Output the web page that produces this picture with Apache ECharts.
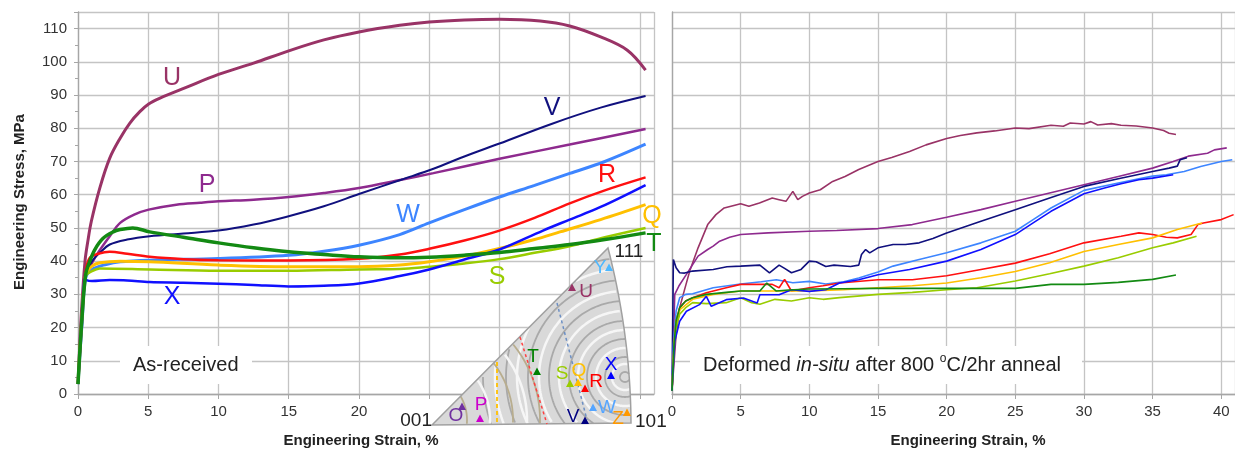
<!DOCTYPE html>
<html><head><meta charset="utf-8">
<script src="https://cdn.jsdelivr.net/npm/echarts@6/dist/echarts.min.js"></script>
<style>html,body{margin:0;padding:0;background:#fff}#c{width:1235px;height:451px}</style>
</head><body><div id="c"></div>
<script>
// ---------- DATA (strain %, stress MPa) ----------
// As-received panel
const asU = [[0,3],[0.25,25],[0.5,40],[0.7,46],[0.95,52],[1.55,62],[2.26,71],[3,77],[3.68,81.5],[4.4,85],[5.03,87.3],[5.8,89],[7.7,92.3],[10,96.2],[12.5,99.6],[15,103.3],[17.5,106.6],[20,109],[22.9,111],[25,112],[27.5,112.6],[30,112.8],[32.9,112.3],[35,110.8],[37.2,107.5],[39.1,103.5],[40.4,97.5]];
const asP = [[0,3],[0.3,22],[0.55,36],[1,39.5],[1.5,43],[2.26,47.5],[3,51.5],[4,54],[5.03,55.5],[7,57],[8.7,57.6],[10,58],[12.5,58.5],[15,59.3],[17.5,60.5],[20,62],[23,64.5],[25.3,66.5],[30,70.8],[35,75.1],[40.4,79.8]];
const asV = [[0,3],[0.3,22],[0.55,36],[1,40],[1.55,42.5],[2.26,45],[3.5,46.5],[5.1,47.5],[7.5,48.3],[10,49.2],[12.5,51],[14.8,53.3],[17.5,56.5],[20,60.2],[23,64.5],[25.3,67.8],[27.5,71.5],[30,75.4],[33.7,81.3],[37.2,86.2],[40.4,89.7]];
const asW = [[0,3],[0.3,22],[0.55,35],[1,37.5],[2,39],[3,39.8],[5.1,40.3],[10,40.8],[15,41.8],[17.5,43],[20,44.8],[22.9,48],[25,51.5],[27.7,55.8],[30,59.3],[32.5,62.8],[35,66.4],[37.5,70],[40.4,75.2]];
const asR = [[0,3],[0.3,24],[0.55,37],[0.84,41],[1.5,42.3],[2.26,42.8],[3.5,42.2],[5.1,41.3],[7.5,40.6],[10,40.3],[15,40.2],[20,40.7],[22.9,42],[25,43.7],[27.5,46.2],[30,49.2],[32.5,53],[35,57.4],[37.5,61.3],[40.4,65.2]];
const asQ = [[0,3],[0.3,24],[0.55,36],[1,38.5],[1.55,39.5],[3,40],[5.1,39.8],[10,38.8],[15,38.3],[20,38.3],[22.9,38.8],[25,39.8],[27.5,41.5],[30,43.8],[32.5,46.5],[34.3,48.8],[37.2,52.5],[40.4,57]];
const asS = [[0,3],[0.3,24],[0.55,35.5],[1,37],[1.55,37.8],[5.1,37.5],[10,37.1],[15,37.1],[20,37.5],[22.9,37.6],[25,38.3],[27.5,39.3],[30,40.6],[32.5,42.5],[35,44.5],[37.5,47.2],[40.4,50]];
const asX = [[0,3],[0.3,24],[0.5,35],[0.6,34.3],[1,34],[2.26,34.3],[3.5,34.2],[5.1,33.7],[7.5,33.5],[10,33.2],[12.5,32.8],[15,32.4],[17.5,32.6],[20,33.3],[22.9,35.5],[25,37.5],[27.5,40.5],[30,43.5],[33.1,49.2],[35,52.5],[37.2,56.3],[40.4,62.9]];
const asT = [[0,3],[0.3,24],[0.55,36],[0.84,40],[1.2,43.5],[1.77,46.8],[2.5,48.8],[3,49.5],[3.9,50],[5.1,48.8],[7.5,47.2],[10,45.5],[12.5,44],[15,42.8],[17.5,42],[20,41.3],[22.9,41],[25,41.2],[27.5,41.8],[30,42.6],[32.5,43.8],[35,45],[37.5,46.5],[40.4,48.5]];

// Deformed in-situ after anneal panel
const dfU = [[0,1],[0.3,18],[0.56,26],[0.92,31.5],[1.29,37],[1.9,44],[2.6,51],[3.2,54],[3.8,56],[5,57.3],[5.6,56.5],[6.37,57.5],[7.3,59],[7.8,58.5],[8.3,58],[8.8,61],[9.16,58.5],[9.5,59.5],[10,60.5],[10.8,61.5],[11.7,64],[12.6,65.5],[13.6,67.6],[15,70],[16,71.2],[17.3,73],[18.5,75],[20,76.9],[21,77.8],[22.2,78.6],[23.5,79.2],[25,80.1],[26,79.9],[27.6,80.9],[28.5,80.6],[29,81.6],[30,81.3],[30.5,82],[31,81],[32,81.4],[32.7,80.9],[33.8,80.7],[35,80.1],[35.8,79.3],[36.2,78.5],[36.7,78.1]];
const dfP = [[0,1],[0.1,15],[0.2,30],[0.5,32.5],[1.05,36],[1.9,41.5],[2.6,43.5],[3,44.5],[3.47,46],[4.2,47.2],[5,48],[7,48.5],[10,49],[12,49.2],[15,49.8],[17.5,51],[20,53.2],[22.5,55.5],[25,58],[27.5,60.5],[30,63],[32.5,65.5],[35,68],[36.5,70],[37.6,71.6],[39,72.5],[39.5,73.5],[40.4,74.1]];
const dfV = [[0,1],[0.05,20],[0.1,40.5],[0.3,38],[0.56,36.5],[0.92,36.4],[1.5,37],[3,37.5],[4,38.3],[5,38.5],[6.4,38.8],[7.1,36.5],[7.8,38.8],[8.2,37.8],[8.7,36.5],[9.4,37.5],[10,40],[10.5,39.8],[11.2,38.4],[11.8,38.8],[13,38.4],[13.6,38.8],[13.8,42],[14.1,43.5],[14.4,42.5],[15,44],[16.1,45],[17,45],[18,45.5],[19,46.8],[20,48.5],[22.5,52],[25,55.5],[27.5,59],[30,62.5],[32.5,64.8],[35,67],[36.2,68],[36.8,68.6],[37,70.5],[37.5,71.1]];
const dfW = [[0,1],[0.1,15],[0.3,25],[0.56,29],[1,30],[1.5,30.2],[3,32],[5,33.1],[6.5,33.8],[7.6,34.4],[8.8,33.5],[10,33.9],[11.2,33.1],[12.5,33.8],[13.6,34.9],[15,36.7],[16.1,38.5],[18,40.5],[20,42.5],[22.5,45.5],[25,49],[26.3,52.5],[27.6,56],[30,61.3],[32.5,63.5],[34,64.8],[35,65.6],[36,66],[37.3,67],[38.5,68.5],[40,70],[40.8,70.5]];
const dfX = [[0,1],[0.2,15.8],[0.56,21.9],[1.05,24.9],[2,26.9],[2.5,29.4],[2.86,26.4],[3.95,28.4],[5.2,28.9],[6.2,27.4],[6.4,29.9],[7.8,29.9],[8.7,31.4],[10,30.9],[11.2,31.4],[12.2,33.4],[13.6,34.4],[15,35.9],[17.3,37.5],[20,40],[22.5,43.5],[25,48],[26.3,51.5],[27.6,55],[30,60.3],[31.5,62],[32.7,63.3],[34,64.5],[35,65],[36.5,66]];
const dfR = [[0,1],[0.15,15],[0.3,22],[0.56,26],[1,28],[1.5,29],[2.5,30.5],[3.95,32],[5,33],[7.3,33],[7.8,32],[8.2,34.5],[8.7,31],[10,32],[11,32.6],[12.2,33.4],[15,34.4],[17.5,34.4],[20,35.6],[22.5,37.5],[25,39.4],[27.5,42.2],[30,45.5],[32.7,47.5],[34,48.5],[35,48],[36,47.2],[36.8,47],[37.8,48],[38.3,51],[38.7,51.5],[40,52.5],[40.9,54]];
const dfQ = [[0,1],[0.15,15],[0.3,22],[0.6,25.5],[1.5,28.5],[3,30],[5,31],[7.5,31],[10,31],[12.5,31.4],[15,32],[17.5,32.6],[20,33.4],[22.5,35],[25,36.9],[27.5,39.5],[30,42.9],[32.5,45],[35,47],[36.8,49.5],[38.6,51.5]];
const dfS = [[0,1],[0.15,14],[0.3,20],[0.56,24],[1,26],[1.5,27.5],[2.5,27.2],[3.95,27.5],[5,29],[5.8,27.5],[6.4,27],[7.5,28.5],[8.7,28],[10,29],[11,28.5],[12.2,29],[15,30],[17.5,30.6],[20,31.4],[22.2,32],[25,34],[27.5,36.2],[30,38.5],[32.5,41],[35,44],[36.5,45.5],[38.2,47.5]];
const dfT = [[0,1],[0.15,15],[0.3,22],[0.56,26],[1,28],[1.5,29],[2.5,30],[3.95,30.6],[5,31],[6.4,31],[6.9,33.4],[7.6,31],[8.5,31.3],[10,31.6],[12.5,31.7],[15,31.8],[17.5,31.8],[20,31.8],[22.5,31.8],[25,31.8],[27.6,33],[30,33],[32.5,33.6],[35,34.5],[36.7,35.8]];

const sampleNames = ['U','P','V','W','R','Q','S','X','T'];
const asData = {U:asU,P:asP,V:asV,W:asW,R:asR,Q:asQ,S:asS,X:asX,T:asT};
const dfData = {U:dfU,P:dfP,V:dfV,W:dfW,R:dfR,Q:dfQ,S:dfS,X:dfX,T:dfT};
const xTicksLeft = [0,5,10,15,20];               // 25-40 are hidden behind the inset in the original
const xTicksRight = [0,5,10,15,20,25,30,35,40];
const yTicks = [0,10,20,30,40,50,60,70,80,90,100,110];

// ---------- STYLES ----------
const colors = {U:'#993366',P:'#8e2a8e',V:'#10107e',W:'#3d85ff',R:'#ff1010',Q:'#ffc000',S:'#99cc00',X:'#1010ff',T:'#138a13'};
const widthsLeft = {U:3,P:2.5,V:2,W:3,R:2.5,Q:3,S:2.5,X:2.5,T:3.5};
const FONT = '"Liberation Sans", Arial, sans-serif';
const gridCol = '#c4c4c4', axisCol = '#a6a6a6';

const chart = echarts.init(document.getElementById('c'), null, {renderer:'canvas'});

function xAxis(idx, ticks){
  return {type:'value', gridIndex:idx, min:0, max:41, interval:5,
    axisLine:{show:true, onZero:false, lineStyle:{color:axisCol,width:1.3}},
    axisTick:{show:true,length:5,lineStyle:{color:axisCol}},
    splitLine:{show:true,lineStyle:{color:gridCol,width:1.3}},
    axisLabel:{color:'#333',fontSize:15,fontFamily:FONT,margin:10,showMaxLabel:false,
      formatter:v=> ticks.includes(v)?String(v):''}};
}
function yAxis(idx, labels){
  return {type:'value', gridIndex:idx, min:0, max:115, interval:10,
    axisLine:{show:true, onZero:false, lineStyle:{color:axisCol,width:1.3}},
    axisTick:{show:labels,length:4,lineStyle:{color:axisCol}},
    minorTick:{show:labels,splitNumber:2,length:3,lineStyle:{color:axisCol}},
    splitLine:{show:true,lineStyle:{color:gridCol,width:1.3}},
    axisLabel:{show:labels,color:'#333',fontSize:15,fontFamily:FONT,margin:11,showMaxLabel:false,
      formatter:v=> yTicks.includes(v)?String(v):''}};
}

const series = [];
sampleNames.forEach(n=>{
  series.push({type:'line', name:'as'+n, xAxisIndex:0, yAxisIndex:0, data:asData[n], showSymbol:false,
    smooth:0.35, lineStyle:{color:colors[n],width:widthsLeft[n]}, z:3});
});
sampleNames.forEach(n=>{
  series.push({type:'line', name:'df'+n, xAxisIndex:1, yAxisIndex:1, data:dfData[n], showSymbol:false,
    smooth:false, lineStyle:{color:colors[n],width:1.6}, z:3});
});

// ---------- GRAPHICS (labels, inset) ----------
const g = [];
function txt(x,y,s,fill,size,opts){
  opts = opts||{};
  const st = {x:0,y:0,text:s,fill:fill,font:(opts.bold?'bold ':'')+size+'px '+FONT,
    textAlign:opts.align||'center', align:opts.align||'center',
    textVerticalAlign:'middle', verticalAlign:'middle'};
  g.push({type:'text', z:120, x:x, y:y, rotation:opts.rot||0, style:st});
}
// axis titles
txt(20,202,'Engineering Stress, MPa','#222',15,{bold:true,rot:Math.PI/2});
txt(361,441,'Engineering Strain, %','#222',15,{bold:true});
txt(968,441,'Engineering Strain, %','#222',15,{bold:true});
// curve labels (left)
const curveLabelPos = {U:[172,78],P:[207,185],V:[552,108],R:[607,175],W:[408,215],Q:[652,216],T:[654,244],S:[497,277],X:[172,297]};
sampleNames.forEach(n=>txt(curveLabelPos[n][0],curveLabelPos[n][1],n,colors[n],25));

// text boxes
g.push({type:'rect', z:110, shape:{x:120,y:346,width:132,height:38}, style:{fill:'#fff'}});
txt(133,365,'As-received','#222',20,{align:'left'});
g.push({type:'rect', z:110, shape:{x:690,y:346,width:392,height:38}, style:{fill:'#fff'}});
g.push({type:'text', z:120, x:703, y:365, style:{x:0,y:0,textAlign:'left',align:'left',textVerticalAlign:'middle',verticalAlign:'middle',
  text:'{n|Deformed }{i|in-situ}{n| after 800 }{s|o}{n|C/2hr anneal}',
  rich:{n:{fontSize:20,fontFamily:FONT,fill:'#222',lineHeight:24},
        i:{fontSize:20,fontFamily:FONT,fontStyle:'italic',fill:'#222',lineHeight:24},
        s:{fontSize:12,fontFamily:FONT,fill:'#222',verticalAlign:'top',lineHeight:24}}}});

// inset stereographic triangle
(function(){
  const A=[432,425], B=[631,423], C=[608,248];
  const M=[(C[0]+B[0])/2+11,(C[1]+B[1])/2];
  const poly=[A,C];
  for(let i=1;i<=24;i++){const t=i/24;
    poly.push([(1-t)*(1-t)*C[0]+2*(1-t)*t*M[0]+t*t*B[0],(1-t)*(1-t)*C[1]+2*(1-t)*t*M[1]+t*t*B[1]]);}
  function inside(p){let c=false;for(let i=0,j=poly.length-1;i<poly.length;j=i++){
    const xi=poly[i][0],yi=poly[i][1],xj=poly[j][0],yj=poly[j][1];
    if(((yi>p[1])!==(yj>p[1]))&&(p[0]<(xj-xi)*(p[1]-yi)/(yj-yi)+xi))c=!c;}return c;}
  g.push({type:'polygon',z:100,shape:{points:poly},style:{fill:'#d9d9d9',stroke:'none'}});
  function rings(cx,cy,radii,stroke,w){
    radii.forEach(r=>{let run=[];
      for(let a=0;a<=360;a+=1.5){const rad=a*Math.PI/180;const p=[cx+r*Math.cos(rad),cy-r*Math.sin(rad)];
        if(inside(p))run.push(p);else{if(run.length>1)g.push({type:'polyline',z:101,shape:{points:run},style:{stroke:stroke,lineWidth:w,fill:'none'}});run=[];}}
      if(run.length>1)g.push({type:'polyline',z:101,shape:{points:run},style:{stroke:stroke,lineWidth:w,fill:'none'}});});
  }
  rings(625,377,[13,29,47,66,86,108,130],'#f6f6f6',2.5);
  rings(625,377,[5,20,38,56,76,97,119,142],'#a9a9a9',1.8);
  rings(420,420,[70,107],'#f6f6f6',2.5);
  rings(420,420,[47,93,120],'#b8ad8e',1.8);
  g.push({type:'polygon',z:102,shape:{points:poly},style:{fill:'none',stroke:'#a0a0a0',lineWidth:1.5}});
  g.push({type:'line',z:103,shape:{x1:497,y1:362,x2:497,y2:423},style:{stroke:'#ffc000',lineWidth:1.8,lineDash:[4,3]}});
  g.push({type:'line',z:103,shape:{x1:520,y1:337,x2:547,y2:424},style:{stroke:'#ff4040',lineWidth:1.5,lineDash:[3,3]}});
  g.push({type:'line',z:103,shape:{x1:557,y1:303,x2:587,y2:420},style:{stroke:'#6c8fc4',lineWidth:1.5,lineDash:[3,3]}});
  const inset = [
    ['Y','#4db8ff',600,268,609,268],['U','#993366',586,292,572,288],['T','#008000',533,357,537,372],
    ['S','#99cc00',562,374,570,384],['Q','#ffc000',579,371,578,383],['R','#ff0000',596,382,585,389],
    ['X','#0000ff',611,365,611,376],['W','#55a5ff',607,408,593,408],['V','#000080',573,417,585,421],
    ['Z','#ff9900',618,419,627,413],['P','#cc00cc',481,405,480,419],['O','#7030a0',456,416,462,407]];
  inset.forEach(d=>{
    g.push({type:'polygon',z:104,shape:{points:[[d[4],d[5]-4.5],[d[4]-4,d[5]+3],[d[4]+4,d[5]+3]]},style:{fill:d[1]}});
    txt(d[2],d[3],d[0],d[1],19);
  });
  txt(432,421,'001','#222',19,{align:'right'});
  txt(629,252,'111','#222',19);
  txt(635,422,'101','#222',19,{align:'left'});
})();

chart.setOption({
  animation:false,
  backgroundColor:'#fff',
  grid:[{left:78,top:12,width:576,height:382},{left:672,top:12,width:564,height:382}],
  xAxis:[xAxis(0,xTicksLeft),xAxis(1,xTicksRight)],
  yAxis:[yAxis(0,true),yAxis(1,false)],
  series:series,
  graphic:{elements:g}
});
</script></body></html>
